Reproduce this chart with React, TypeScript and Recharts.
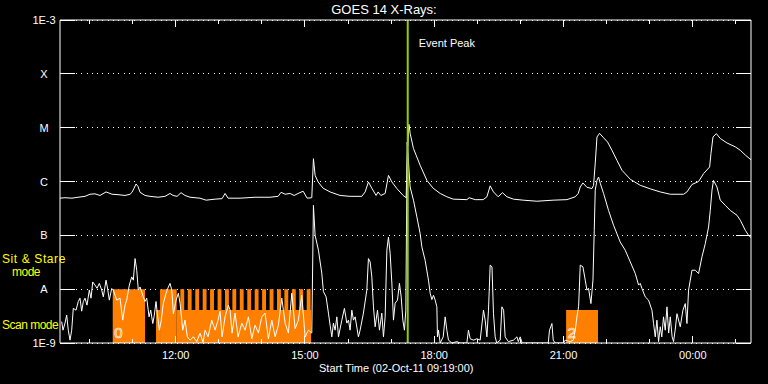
import { CartesianGrid, Line, LineChart, ReferenceArea, ReferenceLine, XAxis, YAxis } from 'recharts';

// time axis in hours of 02-Oct-11 (24+ = next day)
const startHour = 9 + 19 / 60;
const endHour = 25.35;
const hourTicks = [10, 11, 12, 13, 14, 15, 16, 17, 18, 19, 20, 21, 22, 23, 24, 25];
const majorHours = [12, 15, 18, 21, 24];

const fluxTicks = [1e-9, 1e-8, 1e-7, 1e-6, 1e-5, 1e-4, 1e-3];
const fluxLabels = ['1E-9', 'A', 'B', 'C', 'M', 'X', '1E-3'];

const eventPeak = 17.385;

// GOES 14 1-8 A channel [hour, W/m2]
const longChannel: [number, number][] = [
  [9.317, 4.9e-7], [9.433, 5.0e-7], [9.595, 4.9e-7], [9.735, 5.1e-7], [9.897, 5.3e-7],
  [10.013, 5.8e-7], [10.129, 5.9e-7], [10.245, 5.5e-7], [10.385, 6.4e-7], [10.524, 5.8e-7],
  [10.663, 5.7e-7], [10.826, 5.5e-7], [10.942, 5.8e-7], [10.988, 6.3e-7], [11.035, 7.5e-7],
  [11.081, 9.0e-7], [11.127, 8.1e-7], [11.174, 6.3e-7], [11.29, 5.5e-7], [11.406, 5.3e-7],
  [11.592, 5.1e-7], [11.754, 5.3e-7], [11.87, 6.0e-7], [11.94, 5.5e-7], [12.033, 5.3e-7],
  [12.126, 6.2e-7], [12.218, 5.5e-7], [12.334, 5.1e-7], [12.566, 4.9e-7], [12.706, 4.5e-7],
  [12.915, 4.7e-7], [13.077, 4.8e-7], [13.147, 6.0e-7], [13.216, 4.9e-7], [13.495, 4.9e-7],
  [13.843, 5.1e-7], [14.191, 5.1e-7], [14.377, 5.3e-7], [14.447, 6.3e-7], [14.54, 5.8e-7],
  [14.656, 6.0e-7], [14.749, 5.5e-7], [14.842, 6.0e-7], [14.958, 6.6e-7], [15.051, 4.9e-7],
  [15.159, 5.0e-7], [15.197, 2.66e-6], [15.236, 1.3e-6], [15.306, 9.8e-7], [15.422, 7.5e-7],
  [15.584, 6.4e-7], [15.816, 5.5e-7], [16.048, 5.3e-7], [16.32, 5.3e-7], [16.397, 6.4e-7],
  [16.473, 9.8e-7], [16.552, 7.5e-7], [16.652, 5.5e-7], [16.698, 6.4e-7], [16.761, 5.5e-7],
  [16.861, 6.0e-7], [16.938, 1.3e-6], [17.017, 9.8e-7], [17.133, 7.4e-7], [17.279, 5.5e-7],
  [17.348, 5.0e-7], [17.38, 3.8e-6], [17.414, 1.15e-5], [17.441, 7.85e-6], [17.518, 4.1e-6],
  [17.673, 2.0e-6], [17.829, 1.05e-6], [17.975, 7.5e-7], [18.138, 6.0e-7], [18.293, 5.2e-7],
  [18.439, 4.7e-7], [18.757, 4.6e-7], [18.811, 5.0e-7], [18.95, 4.6e-7], [19.136, 4.6e-7],
  [19.222, 5.2e-7], [19.298, 8.3e-7], [19.375, 6.4e-7], [19.484, 5.2e-7], [19.584, 6.2e-7],
  [19.686, 5.2e-7], [19.839, 4.7e-7], [20.064, 4.5e-7], [20.382, 4.3e-7], [20.761, 4.5e-7],
  [21.079, 4.6e-7], [21.272, 5.2e-7], [21.341, 6.0e-7], [21.388, 7.9e-7], [21.45, 9.4e-7],
  [21.543, 7.8e-7], [21.66, 7.4e-7], [21.697, 8.5e-7], [21.736, 2.2e-6], [21.776, 6.7e-6],
  [21.836, 7.85e-6], [21.929, 6.5e-6], [22.022, 5.4e-6], [22.124, 3.8e-6], [22.24, 2.47e-6],
  [22.356, 1.62e-6], [22.549, 1.1e-6], [22.78, 8.5e-7], [23.013, 7.3e-7], [23.245, 6.4e-7],
  [23.477, 5.8e-7], [23.786, 5.8e-7], [23.864, 6.4e-7], [23.98, 8.8e-7], [24.134, 1.0e-6],
  [24.25, 1.4e-6], [24.39, 1.86e-6], [24.421, 3.3e-6], [24.468, 6.7e-6], [24.545, 7.75e-6],
  [24.637, 6.3e-6], [24.793, 5.2e-6], [24.986, 4.4e-6], [25.102, 3.8e-6], [25.218, 3.1e-6],
  [25.357, 2.5e-6],
];

// GOES 14 0.5-4 A channel [hour, W/m2]
const shortChannel: [number, number][] = [
  [9.356, 2.5e-9], [9.386, 1.73e-9], [9.433, 2.34e-9], [9.472, 3.3e-9], [9.509, 1.73e-9],
  [9.549, 1.13e-9], [9.588, 1.73e-9], [9.625, 4.4e-9], [9.688, 4.07e-9], [9.741, 5.9e-9],
  [9.781, 6.8e-9], [9.82, 3.9e-9], [9.858, 5.9e-9], [9.897, 6.8e-9], [9.943, 5.05e-9],
  [9.997, 9.6e-9], [10.036, 6.8e-9], [10.076, 1.36e-8], [10.129, 1.19e-8], [10.176, 1.04e-8],
  [10.229, 1.28e-8], [10.285, 9.6e-9], [10.322, 7.2e-9], [10.385, 1.47e-8], [10.415, 1.1e-8],
  [10.461, 6.25e-9], [10.517, 1.03e-8], [10.554, 9.6e-9], [10.593, 7.7e-9], [10.633, 6.25e-9],
  [10.709, 6.8e-9], [10.772, 2.66e-9], [10.826, 5.05e-9], [10.865, 6.25e-9], [10.925, 1.19e-8],
  [10.981, 1.69e-8], [11.018, 1.47e-8], [11.058, 3.7e-8], [11.097, 2.25e-8], [11.134, 9.6e-9],
  [11.174, 1.1e-8], [11.236, 7.7e-9], [11.29, 5.9e-9], [11.329, 6.8e-9], [11.383, 3.06e-9],
  [11.422, 4.07e-9], [11.469, 2.3e-9], [11.499, 3.06e-9], [11.545, 5.9e-9], [11.575, 3.5e-9],
  [11.622, 1.73e-9], [11.661, 2.5e-9], [11.715, 5.5e-9], [11.777, 8.4e-9], [11.831, 1.1e-8],
  [11.87, 1.28e-8], [11.91, 9.6e-9], [11.947, 3.5e-9], [12.01, 6.25e-9], [12.063, 8.4e-9],
  [12.102, 5.5e-9], [12.165, 1.73e-9], [12.218, 2.66e-9], [12.272, 1.3e-9], [12.334, 1.13e-9],
  [12.411, 1.3e-9], [12.49, 1.06e-9], [12.566, 1.53e-9], [12.636, 1.03e-9], [12.683, 1.73e-9],
  [12.752, 1.3e-9], [12.838, 2.66e-9], [12.915, 1.73e-9], [12.984, 2.66e-9], [13.031, 3.9e-9],
  [13.077, 1.3e-9], [13.147, 3.06e-9], [13.223, 5.05e-9], [13.263, 4.07e-9], [13.309, 1.53e-9],
  [13.379, 3.59e-9], [13.449, 1.3e-9], [13.535, 2.34e-9], [13.611, 1.73e-9], [13.688, 3.06e-9],
  [13.767, 1.2e-9], [13.843, 2.15e-9], [13.92, 1.53e-9], [13.999, 3.06e-9], [14.075, 3.59e-9],
  [14.152, 1.2e-9], [14.231, 2.66e-9], [14.308, 1.3e-9], [14.384, 2.15e-9], [14.463, 6.8e-9],
  [14.54, 2.34e-9], [14.616, 1.53e-9], [14.695, 8.4e-9], [14.772, 1.85e-9], [14.848, 2.66e-9],
  [14.927, 7.7e-9], [15.004, 1.3e-9], [15.08, 1.73e-9], [15.159, 1.53e-9], [15.197, 3.6e-7],
  [15.236, 1.0e-7], [15.313, 5.3e-8], [15.391, 1.98e-8], [15.429, 9.0e-9], [15.491, 7.2e-9],
  [15.545, 3.59e-9], [15.584, 2.15e-9], [15.624, 1.3e-9], [15.661, 2.34e-9], [15.7, 1.73e-9],
  [15.74, 3.06e-9], [15.778, 1.3e-9], [15.856, 2.66e-9], [15.916, 4.4e-9], [15.972, 2.34e-9],
  [16.01, 2.66e-9], [16.048, 1.73e-9], [16.088, 4.07e-9], [16.125, 2.66e-9], [16.165, 3.06e-9],
  [16.241, 1.3e-9], [16.28, 1.73e-9], [16.357, 3.59e-9], [16.436, 9.6e-9], [16.473, 3.7e-8],
  [16.513, 3.2e-8], [16.552, 1.69e-8], [16.59, 4.7e-9], [16.629, 2.0e-9], [16.683, 4.07e-9],
  [16.729, 1.73e-9], [16.784, 3.59e-9], [16.822, 1.3e-9], [16.861, 3.06e-9], [16.901, 5.3e-8],
  [16.938, 9.3e-8], [16.977, 4.6e-8], [17.017, 1.29e-8], [17.054, 2.66e-9], [17.093, 5.5e-9],
  [17.147, 6.25e-9], [17.193, 1.28e-8], [17.233, 7.2e-9], [17.272, 2.66e-9], [17.309, 1.73e-9],
  [17.341, 4.07e-9], [17.372, 5.4e-6], [17.441, 7.9e-7], [17.518, 4.5e-7], [17.597, 2.2e-7],
  [17.673, 1.08e-7], [17.713, 6.1e-8], [17.79, 3.4e-8], [17.866, 1.47e-8], [17.906, 8.4e-9],
  [17.945, 6.4e-9], [17.983, 7.7e-9], [18.022, 6.25e-9], [18.061, 4.7e-9], [18.075, 1.3e-9],
  [18.098, 1.73e-9], [18.138, 1.0e-9], [18.208, 1.3e-9], [18.254, 3.06e-9], [18.293, 1.73e-9],
  [18.33, 1.13e-9], [18.41, 1.0e-9], [18.525, 1.06e-9], [18.602, 1.0e-9], [18.757, 1.0e-9],
  [18.794, 1.73e-9], [18.834, 1.2e-9], [18.91, 1.13e-9], [18.99, 1.2e-9], [19.066, 1.13e-9],
  [19.143, 4.07e-9], [19.182, 2.66e-9], [19.222, 1.3e-9], [19.259, 4.07e-9], [19.298, 2.8e-8],
  [19.34, 2.6e-8], [19.375, 3.5e-9], [19.414, 1.3e-9], [19.45, 1.0e-9], [19.531, 1.13e-9],
  [19.57, 4.7e-9], [19.61, 4.07e-9], [19.646, 1.3e-9], [19.72, 1.06e-9], [19.839, 1.13e-9],
  [19.92, 1.3e-9], [19.95, 1.06e-9], [19.995, 1.3e-9], [20.04, 1.0e-9], [20.459, 1.0e-9],
  [20.645, 1.0e-9], [20.675, 1.73e-9], [20.731, 2.3e-9], [20.761, 1.13e-9], [20.807, 1.0e-9],
  [20.993, 1.0e-9], [21.04, 1.13e-9], [21.156, 1.06e-9], [21.225, 1.13e-9], [21.272, 1.73e-9],
  [21.311, 3.06e-9], [21.35, 4.7e-9], [21.388, 2.8e-8], [21.45, 2.6e-8], [21.504, 1.47e-8],
  [21.543, 9.6e-9], [21.58, 1.04e-8], [21.636, 5.4e-9], [21.683, 1.47e-8], [21.713, 1.24e-7],
  [21.736, 6.9e-7], [21.776, 1.05e-6], [21.813, 1.21e-6], [21.852, 9.3e-7], [21.929, 6.0e-7],
  [22.045, 2.9e-7], [22.161, 1.54e-7], [22.316, 7.5e-8], [22.432, 5.3e-8], [22.549, 3.2e-8],
  [22.665, 1.95e-8], [22.742, 1.19e-8], [22.78, 1.28e-8], [22.82, 1.03e-8], [22.896, 7.2e-9],
  [22.973, 6.25e-9], [23.052, 4.07e-9], [23.089, 2.3e-9], [23.128, 1.3e-9], [23.167, 2.66e-9],
  [23.205, 1.06e-9], [23.245, 2.0e-9], [23.28, 1.3e-9], [23.32, 3.06e-9], [23.36, 1.73e-9],
  [23.4, 4.7e-9], [23.44, 1.53e-9], [23.477, 3.06e-9], [23.52, 1.3e-9], [23.553, 1.06e-9],
  [23.59, 1.73e-9], [23.632, 3.5e-9], [23.709, 2.0e-9], [23.77, 4.07e-9], [23.825, 5.4e-9],
  [23.864, 2.3e-9], [23.901, 9.6e-9], [23.941, 1.47e-8], [23.98, 2.25e-8], [24.057, 2.25e-8],
  [24.134, 1.95e-8], [24.213, 4.0e-8], [24.289, 7.0e-8], [24.366, 1.43e-7], [24.405, 2.9e-7],
  [24.445, 6.9e-7], [24.48, 1.05e-6], [24.561, 7.9e-7], [24.637, 4.5e-7], [24.754, 3.6e-7],
  [24.87, 2.9e-7], [25.025, 2.36e-7], [25.102, 1.91e-7], [25.218, 1.24e-7], [25.294, 1.0e-7],
  [25.357, 9.0e-8],
];

// observing mode bars (orange)
const sitStareLevel = 1e-8;
const scanLevel = 4.1e-9;
const sitStareSpans: [number, number][] = [
  [10.54, 11.29], [11.638, 12.025],
  [12.109, 12.199], [12.281, 12.371], [12.455, 12.545], [12.627, 12.717], [12.799, 12.889],
  [12.973, 13.063], [13.145, 13.235], [13.316, 13.406], [13.488, 13.578], [13.662, 13.752],
  [13.834, 13.924], [14.006, 14.096], [14.18, 14.27], [14.352, 14.442], [14.523, 14.613],
  [14.697, 14.787], [14.869, 14.959], [15.041, 15.131],
];
const scanSpans: [number, number][] = [[11.545, 11.638], [12.025, 15.143], [21.06, 21.8]];
const blockLabels: [number, string][] = [[10.54, '0'], [21.06, '2']];

const longData = longChannel.map(([t, flux]) => ({ t, flux }));
const shortData = shortChannel.map(([t, flux]) => ({ t, flux }));

const FONT = '"Liberation Sans", Arial, sans-serif';
const ORANGE = '#ff8000';

const hourLabel = (h: number) => `${String(h % 24).padStart(2, '0')}:00`;

const BottomTick = ({ x, y, payload }: any) => {
  const major = majorHours.includes(payload.value);
  return (
    <g>
      <line x1={x} x2={x} y1={y} y2={y - (major ? 7 : 4)} stroke='#fff' shapeRendering='crispEdges' />
      {major && (
        <text x={x} y={y + 16} textAnchor='middle' fill='#fff' fontSize={11} fontFamily={FONT}>
          {hourLabel(payload.value)}
        </text>
      )}
    </g>
  );
};

const TopTick = ({ x, y, payload }: any) => {
  const major = majorHours.includes(payload.value);
  return <line x1={x} x2={x} y1={y} y2={y + (major ? 7 : 4)} stroke='#fff' shapeRendering='crispEdges' />;
};

const LeftTick = ({ x, y, index }: any) => (
  <g>
    <line x1={x} x2={x + 15} y1={y} y2={y} stroke='#fff' shapeRendering='crispEdges' />
    <text x={x - 16} y={y + 4} textAnchor='middle' fill='#fff' fontSize={11} fontFamily={FONT}>
      {fluxLabels[index]}
    </text>
  </g>
);

const RightTick = ({ x, y }: any) => (
  <line x1={x - 15} x2={x} y1={y} y2={y} stroke='#fff' shapeRendering='crispEdges' />
);

const blockLabel = (text: string) => (props: any) => {
  const vb = props.viewBox;
  return (
    <text
      x={vb.x + 1.5}
      y={vb.y + vb.height - 5}
      fill='none'
      stroke='#fff'
      strokeWidth={0.6}
      fontSize={15}
      fontFamily={FONT}
    >
      {text}
    </text>
  );
};

const peakLabel = (props: any) => {
  const vb = props.viewBox;
  return (
    <text x={vb.x + 11} y={vb.y + 27} fill='#fff' fontSize={11} fontFamily={FONT}>
      Event Peak
    </text>
  );
};

const textStyle: React.CSSProperties = {
  position: 'absolute',
  fontFamily: FONT,
  whiteSpace: 'nowrap',
  lineHeight: 1,
};

export default function App() {
  return (
    <div style={{ position: 'fixed', left: 0, top: 0, width: 768, height: 384, background: '#000' }}>
      <LineChart width={768} height={384} margin={{ top: 0, right: 0, bottom: 0, left: 0 }}>
        <XAxis
          xAxisId='bottom'
          dataKey='t'
          type='number'
          domain={[startHour, endHour]}
          allowDataOverflow
          ticks={hourTicks}
          interval={0}
          height={41}
          tickSize={0}
          tickMargin={0}
          tick={<BottomTick />}
          axisLine={{ stroke: '#fff' }}
        />
        <XAxis
          xAxisId='top'
          orientation='top'
          dataKey='t'
          type='number'
          domain={[startHour, endHour]}
          allowDataOverflow
          ticks={hourTicks}
          interval={0}
          height={20}
          tickSize={0}
          tickMargin={0}
          tick={<TopTick />}
          axisLine={{ stroke: '#fff' }}
        />
        <YAxis
          yAxisId='left'
          scale='log'
          domain={[1e-9, 1e-3]}
          allowDataOverflow
          ticks={fluxTicks}
          interval={0}
          width={60}
          tickSize={0}
          tickMargin={0}
          tick={<LeftTick />}
          axisLine={{ stroke: '#fff' }}
        />
        <YAxis
          yAxisId='right'
          orientation='right'
          scale='log'
          domain={[1e-9, 1e-3]}
          allowDataOverflow
          ticks={fluxTicks}
          interval={0}
          width={17}
          tickSize={0}
          tickMargin={0}
          tick={<RightTick />}
          axisLine={{ stroke: '#fff' }}
        />
        <CartesianGrid
          xAxisId='bottom'
          yAxisId='left'
          vertical={false}
          stroke='#fff'
          strokeDasharray='1 4.3'
          shapeRendering='crispEdges'
        />
        {scanSpans.map(([a, b], i) => {
          const tag = blockLabels.find(([t]) => t === a);
          return (
            <ReferenceArea
              key={`scan-${i}`}
              xAxisId='bottom'
              yAxisId='left'
              x1={a}
              x2={b}
              y1={1e-9}
              y2={scanLevel}
              fill={ORANGE}
              fillOpacity={1}
              stroke='none'
              label={tag ? blockLabel(tag[1]) : undefined}
            />
          );
        })}
        {sitStareSpans.map(([a, b], i) => {
          const tag = blockLabels.find(([t]) => t === a);
          return (
            <ReferenceArea
              key={`sit-${i}`}
              xAxisId='bottom'
              yAxisId='left'
              x1={a}
              x2={b}
              y1={1e-9}
              y2={sitStareLevel}
              fill={ORANGE}
              fillOpacity={1}
              stroke='none'
              label={tag ? blockLabel(tag[1]) : undefined}
            />
          );
        })}
        <Line
          xAxisId='bottom'
          yAxisId='left'
          data={shortData}
          dataKey='flux'
          type='linear'
          stroke='#fff'
          strokeWidth={1}
          dot={false}
          isAnimationActive={false}
        />
        <Line
          xAxisId='bottom'
          yAxisId='left'
          data={longData}
          dataKey='flux'
          type='linear'
          stroke='#fff'
          strokeWidth={1}
          dot={false}
          isAnimationActive={false}
        />
        <ReferenceLine
          xAxisId='bottom'
          yAxisId='left'
          x={eventPeak}
          stroke='#99cc00'
          strokeWidth={2}
          label={peakLabel}
        />
      </LineChart>
      <div style={{ ...textStyle, left: 0, width: 768, top: 3, textAlign: 'center', color: '#fff', fontSize: 13 }}>
        GOES 14 X-Rays:
      </div>
      <div style={{ ...textStyle, left: 319, top: 363, color: '#fff', fontSize: 11 }}>
        Start Time (02-Oct-11 09:19:00)
      </div>
      <div style={{ ...textStyle, left: 2, top: 253, color: '#ffff00', fontSize: 12, letterSpacing: 0.6 }}>
        Sit &amp; Stare
      </div>
      <div style={{ ...textStyle, left: 12, top: 266, color: '#ffff00', fontSize: 12, letterSpacing: -0.5 }}>
        mode
      </div>
      <div style={{ ...textStyle, left: 2, top: 319, color: '#ffff00', fontSize: 12, letterSpacing: -0.5 }}>
        Scan mode
      </div>
    </div>
  );
}
